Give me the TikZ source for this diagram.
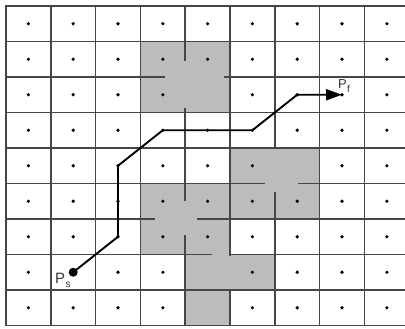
\documentclass[tikz,border=0pt]{standalone}
\usepackage{fontspec}
\setmainfont{Liberation Sans}
\usetikzlibrary{arrows.meta}
\definecolor{gridc}{RGB}{70,70,70}
\definecolor{obst}{RGB}{188,188,188}
\definecolor{lblc}{RGB}{55,55,55}
\tikzset{
  gridline/.style={draw=gridc, line width=1.6pt, line cap=rect},
  gapline/.style={draw=obst, line width=3.2pt, line cap=butt},
  celldot/.style={circle, fill=black, inner sep=0pt, minimum size=3.6pt},
  route/.style={draw=black, line width=1.9pt, line join=miter},
  lbl/.style={inner sep=0pt, text=lblc},
}
\begin{document}
\begin{tikzpicture}[x=1pt,y=1pt]
\useasboundingbox (0,0) rectangle (405,-329);
\clip (0,0) rectangle (405,-329);
\fill[white] (0,0) rectangle (405,-329);
\begin{scope}[shift={(6pt,-6pt)}, x=44.8pt, y=-35.5pt]
  % obstacle regions
  \fill[obst] (3,1) rectangle (5,3);
  \fill[obst] (5,4) rectangle (7,6);
  \fill[obst] (3,5) rectangle (5,7);
  \fill[obst] (4,7) rectangle (6,8);
  \fill[obst] (4,8) rectangle (5,9);
  % grid
  \foreach \i in {0,...,9} \draw[gridline] (\i,0) -- (\i,9);
  \foreach \j in {0,...,9} \draw[gridline] (0,\j) -- (9,\j);
  % removed inner lines of obstacles
  \draw[gapline] (4,1.56) -- (4,2.86);
  \draw[gapline] (3.56,2) -- (4.87,2);
  \draw[gapline] (6,4.04) -- (6,5.24);
  \draw[gapline] (5.78,5) -- (6.52,5);
  \draw[gapline] (4,5.48) -- (4,6.45);
  \draw[gapline] (3.33,6) -- (4.26,6);
  \draw[gapline] (4.6,7) -- (4.98,7);
  \draw[gapline] (5,7.04) -- (5,7.96);
  % cell centre dots
  \foreach \i in {0,...,8} {
    \foreach \j in {0,...,8} {
      \pgfmathtruncatemacro\cellcode{10*\i+\j}
      \pgfmathtruncatemacro\hidedot{(\cellcode==42)||(\cellcode==64)||(\cellcode==47)||(\cellcode==48)}
      \ifnum\hidedot=0
        \node[celldot] (d\i\j) at (\i+0.5,\j+0.5) {};
      \fi
    }
  }
  % route
  \node[circle, fill=black, inner sep=0pt, minimum size=9pt] (ps) at (1.5,7.5) {};
  \coordinate (w1) at (2.5,6.5);
  \coordinate (w2) at (2.5,4.5);
  \coordinate (w3) at (3.5,3.5);
  \coordinate (w4) at (5.5,3.5);
  \coordinate (w5) at (6.5,2.5);
  \coordinate (pf) at (7.5,2.5);
  \draw[route, -{Triangle[length=16pt,width=11pt]}] (ps.center) -- (w1) -- (w2) -- (w3) -- (w4) -- (w5) -- (pf);
\end{scope}
\node[lbl, anchor=base west, font=\fontsize{15}{15}\selectfont] (lps) at (55,-283) {P\kern0.3pt\raisebox{-4.5pt}{\fontsize{10}{10}\selectfont s}};
\node[lbl, anchor=base west, font=\fontsize{13}{13}\selectfont] (lpf) at (338,-89) {P\kern0.3pt\raisebox{-4pt}{\fontsize{10}{10}\selectfont f}};
\end{tikzpicture}
\end{document}
